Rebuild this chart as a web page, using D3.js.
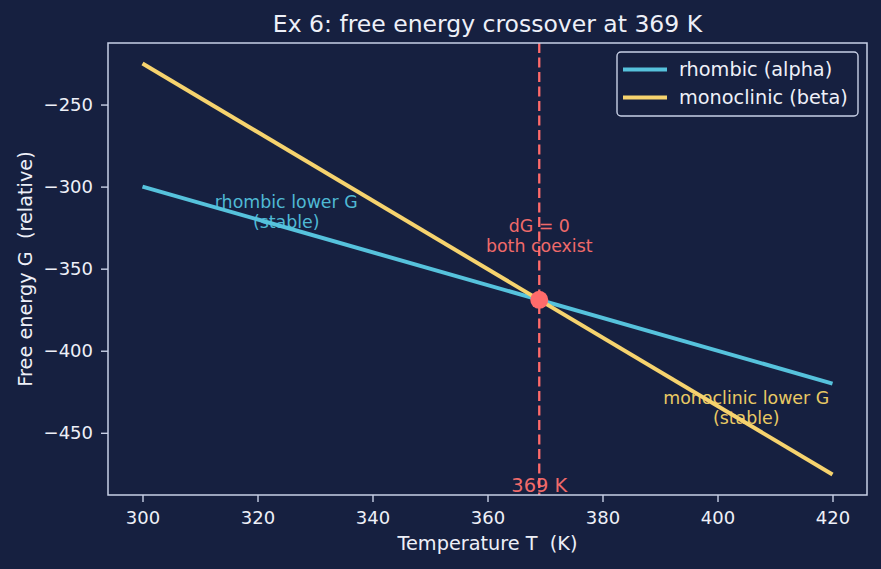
<!DOCTYPE html>
<html>
<head>
<meta charset="utf-8">
<script src="https://cdn.jsdelivr.net/npm/d3@7"></script>
<style>
  html, body { margin: 0; padding: 0; background: #162040; }
  svg { display: block; font-family: 'DejaVu Sans', sans-serif; }
  svg text { white-space: pre; }
</style>
</head>
<body>
<svg id="chart"></svg>
<script>
'use strict';

// data
const temps = [300, 420];
const rhombicG = [-300, -420];
const monoclinicG = [-225, -475.4];
const crossT = 369;
const crossG = -369;
const xTicks = [300, 320, 340, 360, 380, 400, 420];
const yTicks = [-250, -300, -350, -400, -450];

const W = 881, H = 569;
const margin = { top: 43, right: 14, bottom: 74, left: 108 };
const width = W - margin.left - margin.right,
  height = H - margin.top - margin.bottom;

const bg = '#162040', fg = '#eef0f8', spine = '#c8d0e6';
const blue = '#56c2dc', yellow = '#f6d36e', red = '#ff6b6b';

const root = d3.select('#chart').attr('width', W).attr('height', H);
root.append('rect').attr('width', W).attr('height', H).attr('fill', bg);

const svg = root.append('g').attr('transform', `translate(${ margin.left },${ margin.top })`);

const x = d3.scaleLinear().domain([294, 426]).range([0, width]);
const y = d3.scaleLinear().domain([-487.9, -212.5]).range([height, 0]);

// annotations (sit under the lines)
function note(lines, tx, ty, col) {
  lines.forEach((txt, i) => svg.append('text')
    .attr('x', x(tx)).attr('y', y(ty) + (i ? 15.5 : -4.5))
    .attr('text-anchor', 'middle').attr('fill', col).style('font-size', '17.4px').text(txt));
}

note(['rhombic lower G', '(stable)'], 325, -316, '#4fb9d4');
note(['dG = 0', 'both coexist'], crossT, -330.5, '#f06a6a');
note(['monoclinic lower G', '(stable)'], 405, -435.5, '#e9c964');
svg.append('text').attr('x', x(crossT)).attr('y', height - 3)
  .attr('text-anchor', 'middle').attr('fill', '#f06a6a').style('font-size', '19.4px').text(crossT + ' K');

// crossover line
svg.append('line')
  .attr('x1', x(crossT)).attr('x2', x(crossT)).attr('y1', 0).attr('y2', height)
  .attr('stroke', red).attr('stroke-width', 2.3).attr('stroke-dasharray', '10,4.5');

const line = d3.line().x(d => x(d[0])).y(d => y(d[1]));
svg.append('path').datum(d3.zip(temps, rhombicG)).attr('d', line)
  .attr('fill', 'none').attr('stroke', blue).attr('stroke-width', 4);
svg.append('path').datum(d3.zip(temps, monoclinicG)).attr('d', line)
  .attr('fill', 'none').attr('stroke', yellow).attr('stroke-width', 4);

svg.append('circle').attr('cx', x(crossT)).attr('cy', y(crossG)).attr('r', 9).attr('fill', red);

// axes
const xAxis = svg.append('g').attr('transform', `translate(0,${ height })`)
  .call(d3.axisBottom(x).tickValues(xTicks).tickSize(7).tickPadding(9).tickFormat(d3.format('d')));
const yAxis = svg.append('g')
  .call(d3.axisLeft(y).tickValues(yTicks).tickSize(7).tickPadding(8).tickFormat(d => '\u2212' + Math.abs(d)));
[xAxis, yAxis].forEach(a => {
  a.select('.domain').remove();
  a.selectAll('line').attr('stroke', spine).attr('stroke-width', 1.4);
  a.selectAll('text').attr('fill', fg).style('font-size', '18px').style('font-family', 'DejaVu Sans, sans-serif');
});

svg.append('rect').attr('width', width).attr('height', height)
  .attr('fill', 'none').attr('stroke', spine).attr('stroke-width', 1.5);

// labels
root.append('text').attr('x', margin.left + width / 2).attr('y', 32).attr('text-anchor', 'middle')
  .attr('fill', fg).style('font-size', '23.5px').text('Ex 6: free energy crossover at 369 K');
root.append('text').attr('x', margin.left + width / 2).attr('y', 550).attr('text-anchor', 'middle')
  .attr('fill', fg).style('font-size', '19.3px').text('Temperature T  (K)');
root.append('text').attr('transform', `translate(31.5,${ margin.top + height / 2 }) rotate(-90)`)
  .attr('text-anchor', 'middle').attr('fill', fg).style('font-size', '19.3px').text('Free energy G  (relative)');

// legend
const legendItems = [['rhombic (alpha)', blue], ['monoclinic (beta)', yellow]];
const legend = svg.append('g').attr('transform', 'translate(509,9)');
legend.append('rect').attr('width', 241).attr('height', 64).attr('rx', 4)
  .attr('fill', bg).attr('fill-opacity', 0.8).attr('stroke', spine).attr('stroke-width', 1.4);
legendItems.forEach(([name, col], i) => {
  const g = legend.append('g').attr('transform', `translate(0,${ 17.5 + i * 28 })`);
  g.append('line').attr('x1', 6).attr('x2', 50).attr('stroke', col).attr('stroke-width', 4);
  g.append('text').attr('x', 62).attr('dy', '0.35em').attr('fill', fg).style('font-size', '19.3px').text(name);
});
</script>
</body>
</html>
